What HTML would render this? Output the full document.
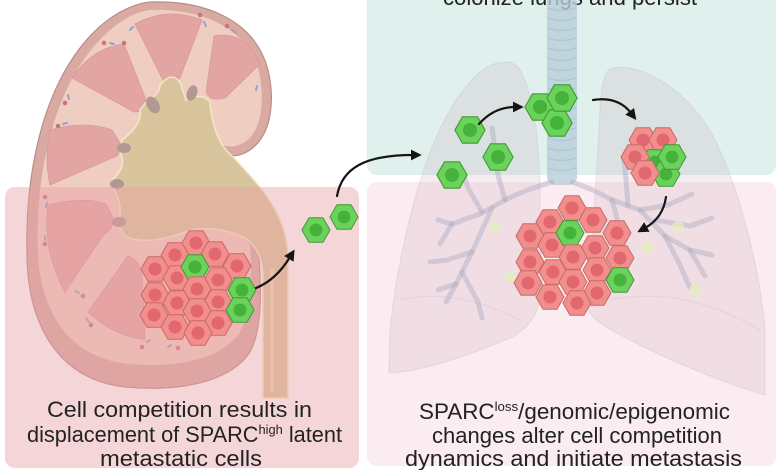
<!DOCTYPE html>
<html>
<head>
<meta charset="utf-8">
<style>
  html,body{margin:0;padding:0;background:#fff;}
  svg{display:block;}
  text{font-family:"Liberation Sans",Arial,sans-serif;fill:#222;}
</style>
</head>
<body>
<svg width="780" height="470" viewBox="0 0 780 470" xmlns="http://www.w3.org/2000/svg">
  <defs>
    <g id="R">
      <polygon points="-14,0 -7,-12.2 7,-12.2 14,0 7,12.2 -7,12.2" fill="#f28e8c" stroke="#c76a68" stroke-width="1"/>
      <circle r="6.5" fill="#e1686f"/>
    </g>
    <g id="G">
      <polygon points="-14,0 -7,-12.2 7,-12.2 14,0 7,12.2 -7,12.2" fill="#6bd35c" stroke="#3d9a33" stroke-width="1"/>
      <circle r="6.5" fill="#45b23b"/>
    </g>
    <marker id="ah" viewBox="0 0 10 10" refX="2" refY="5" markerWidth="11" markerHeight="11" markerUnits="userSpaceOnUse" orient="auto">
      <path d="M0,0 L10,5 L0,10 z" fill="#151515"/>
    </marker>
  </defs>

  <rect width="780" height="470" fill="#ffffff"/>

  <!-- right panels -->
  <rect x="367" y="-20" width="409" height="195" rx="10" fill="#e0f0ed"/>
  <rect x="367" y="182" width="409" height="284" rx="10" fill="#fbecf1"/>

  <!-- top title (cut off) -->
  <text x="443" y="5" font-size="22" textLength="254" lengthAdjust="spacingAndGlyphs">colonize lungs and persist</text>

  <!-- lungs -->
  <g>
    <path d="M505,62 C480,62 455,95 435,140 C410,200 395,280 390,330 L389,373 C420,372 470,355 505,340 C525,333 540,315 542,290 L540,200 C540,150 535,95 520,70 C515,63 510,62 505,62 Z" fill="rgb(200,172,182)" fill-opacity="0.22" stroke="rgb(190,165,175)" stroke-opacity="0.25"/>
    <path d="M612,68 C640,62 690,90 715,140 C740,190 760,270 765,330 L765,395 C730,385 680,365 640,345 C610,330 592,320 588,310 L592,240 C595,200 598,150 600,110 C601,85 605,70 612,68 Z" fill="rgb(200,172,182)" fill-opacity="0.22" stroke="rgb(190,165,175)" stroke-opacity="0.25"/>
    <path d="M400,300 C440,290 480,300 520,320 M610,300 C660,290 710,300 760,330" fill="none" stroke="rgb(190,165,175)" stroke-opacity="0.22"/>
  </g>

  <!-- trachea -->
  <g opacity="0.8">
    <rect x="547" y="-5" width="30" height="190" rx="8" fill="#b9cfda"/>
    <g stroke="#a6bccb" stroke-width="1.3" fill="none">
      <path d="M548,8 Q562,13 576,8"/><path d="M548,18 Q562,23 576,18"/><path d="M548,28 Q562,33 576,28"/>
      <path d="M548,38 Q562,43 576,38"/><path d="M548,48 Q562,53 576,48"/><path d="M548,58 Q562,63 576,58"/>
      <path d="M548,68 Q562,73 576,68"/><path d="M548,78 Q562,83 576,78"/><path d="M548,88 Q562,93 576,88"/>
      <path d="M548,98 Q562,103 576,98"/><path d="M548,108 Q562,113 576,108"/><path d="M548,118 Q562,123 576,118"/>
      <path d="M548,128 Q562,133 576,128"/><path d="M548,138 Q562,143 576,138"/><path d="M548,148 Q562,153 576,148"/>
      <path d="M548,158 Q562,163 576,158"/><path d="M548,168 Q562,173 576,168"/>
    </g>
  </g>

  <!-- bronchi -->
  <g fill="none" stroke="#aeaac4" stroke-opacity="0.45" stroke-width="5" stroke-linecap="round" stroke-linejoin="round">
    <path d="M552,182 Q525,190 505,200 L480,214 L452,224 L438,220"/>
    <path d="M505,200 L498,175 L495,150 L492,128"/>
    <path d="M482,212 L468,188 L462,170"/>
    <path d="M492,208 L472,252 L456,284 L446,302"/>
    <path d="M472,252 L447,260 L430,262"/>
    <path d="M462,272 L478,302 L482,318"/>
    <path d="M456,284 L438,290"/>
    <path d="M452,224 L440,244"/>
    <path d="M572,182 Q595,190 612,200 L640,210 L668,205 L692,194"/>
    <path d="M640,210 L665,236 L690,250 L712,255"/>
    <path d="M665,236 L680,265 L690,288"/>
    <path d="M628,205 L626,180 L624,160"/>
    <path d="M655,220 L690,226 L712,218"/>
    <path d="M690,250 L705,276"/>
    <path d="M612,200 L620,230 L612,260"/>
  </g>
  <g fill="#e2edbd" fill-opacity="0.75">
    <circle cx="495" cy="227" r="6"/><circle cx="510" cy="277" r="6"/>
    <circle cx="648" cy="248" r="6"/><circle cx="678" cy="227" r="6"/><circle cx="695" cy="290" r="6"/>
  </g>

  <!-- kidney -->
  <g>
    <path d="M150,2 C205,0 255,20 268,70 C275,100 272,135 250,150 C238,158 225,158 215,150 L212,135 L230,200 L258,245 C262,290 262,330 250,352 C230,382 180,392 125,387 C62,380 28,330 27,255 C25,180 40,100 80,48 C100,22 125,5 150,2 Z" fill="#d9aaa2" stroke="#b78e88" stroke-width="1.2"/>
    <path d="M150,10 C200,8 248,27 259,72 C265,100 262,130 245,142 C235,148 226,148 218,142 L212,135 L228,200 L250,245 C253,288 250,318 238,335 C218,360 178,368 128,364 C75,358 42,320 38,255 C35,182 50,105 87,55 C106,30 128,13 150,10 Z" fill="#f0cdc1"/>
    <!-- pyramids -->
    <g fill="#e3a5a3" stroke="#d8999a" stroke-width="0.8">
      <path d="M135,24 Q168,6 202,20 L180,78 Q172,86 163,80 Z"/>
      <path d="M214,36 Q245,30 260,64 L225,98 Q210,102 206,92 Z"/>
      <path d="M72,78 Q92,48 124,44 L146,100 Q144,112 134,112 Z"/>
      <path d="M50,130 Q85,120 112,130 L122,146 Q120,156 112,158 L50,185 Q44,158 50,130 Z"/>
      <path d="M48,205 Q85,196 106,204 L114,220 Q112,230 104,234 L65,292 Q42,250 48,205 Z"/>
      <path d="M128,256 Q138,260 142,272 L145,340 Q112,335 88,312 Z"/>
    </g>
    <!-- pelvis + ureter -->
    <path d="M165,80 C172,74 180,78 182,88 L186,100 C194,95 205,95 210,102 C212,125 218,145 233,157 C255,180 278,205 285,235 C289,250 288,265 288,280 L288,398 L263,398 L263,275 C262,255 255,245 245,238 C225,228 200,226 185,232 C165,240 140,244 125,236 L118,224 C122,212 120,200 115,192 L112,180 C122,172 125,162 120,152 L122,140 C135,130 142,120 140,110 L148,100 C156,96 160,90 160,85 Z" fill="#d9c59d" stroke="#f3e7c8" stroke-width="1.5"/>
    <path d="M272,270 L272,390" stroke="#ead7b0" stroke-width="4" stroke-linecap="round"/>
    <!-- calyces -->
    <g fill="#b39793">
      <ellipse cx="153" cy="105" rx="6" ry="9" transform="rotate(-30 153 105)"/>
      <ellipse cx="192" cy="93" rx="5" ry="8" transform="rotate(20 192 93)"/>
      <ellipse cx="124" cy="148" rx="7" ry="5"/>
      <ellipse cx="117" cy="184" rx="7" ry="5"/>
      <ellipse cx="119" cy="222" rx="7" ry="5"/>
    </g>
    <!-- vessels -->
    <g fill="#c87679">
      <circle cx="200" cy="15" r="2.3"/><circle cx="227" cy="26" r="2.3"/><circle cx="124" cy="43" r="2.3"/>
      <circle cx="104" cy="43" r="2.3"/><circle cx="65" cy="103" r="2.3"/><circle cx="58" cy="126" r="2.3"/>
      <circle cx="45" cy="197" r="2.3"/><circle cx="45" cy="244" r="2.3"/><circle cx="83" cy="296" r="2.3"/>
      <circle cx="91" cy="325" r="2.3"/><circle cx="142" cy="347" r="2.3"/><circle cx="178" cy="348" r="2.3"/>
    </g>
    <g stroke="#9aa0c8" stroke-width="2" stroke-linecap="round">
      <path d="M204,22 L206,26"/><path d="M232,30 L236,33"/><path d="M130,30 L133,27"/><path d="M110,43 L114,44"/>
      <path d="M68,95 L69,99"/><path d="M63,124 L67,123"/><path d="M47,203 L46,207"/><path d="M45,236 L45,240"/>
      <path d="M75,291 L79,293"/><path d="M86,318 L89,322"/><path d="M147,342 L150,340"/><path d="M168,347 L171,345"/>
      <path d="M257,86 L256,90"/>
    </g>
  </g>

  <!-- left panel overlay -->
  <rect x="5" y="187" width="354" height="281" rx="10" fill="rgb(232,160,165)" fill-opacity="0.43"/>

  <!-- kidney tumor cluster -->
  <use href="#R" x="196" y="243"/>
  <use href="#R" x="175" y="255"/>
  <use href="#R" x="215" y="254"/>
  <use href="#R" x="155" y="269"/>
  <use href="#R" x="237" y="266"/>
  <use href="#R" x="177" y="278"/>
  <use href="#R" x="218" y="280"/>
  <use href="#G" x="195" y="267"/>
  <use href="#R" x="197" y="289"/>
  <use href="#R" x="155" y="295"/>
  <use href="#R" x="177" y="303"/>
  <use href="#R" x="218" y="302"/>
  <use href="#R" x="197" y="311"/>
  <use href="#R" x="154" y="315"/>
  <use href="#R" x="175" y="327"/>
  <use href="#R" x="218" y="323"/>
  <use href="#R" x="198" y="333"/>
  <use href="#G" x="242" y="290"/>
  <use href="#G" x="240" y="310"/>

  <!-- migrating cells -->
  <use href="#G" x="316" y="230"/>
  <use href="#G" x="344" y="217"/>

  <!-- lung cells -->
  <g transform="translate(470,130) scale(1.08)"><use href="#G"/></g>
  <g transform="translate(498,157) scale(1.08)"><use href="#G"/></g>
  <g transform="translate(452,175) scale(1.08)"><use href="#G"/></g>
  <g transform="translate(540,107) scale(1.08)"><use href="#G"/></g>
  <g transform="translate(557,123) scale(1.08)"><use href="#G"/></g>
  <g transform="translate(562,98) scale(1.08)"><use href="#G"/></g>

  <use href="#R" x="643" y="140"/>
  <use href="#R" x="663" y="140"/>
  <use href="#G" x="655" y="162"/>
  <use href="#R" x="635" y="157"/>
  <use href="#G" x="666" y="174"/>
  <use href="#G" x="672" y="157"/>
  <use href="#R" x="645" y="173"/>

  <!-- lung tumor cluster -->
  <use href="#R" x="572" y="208"/>
  <use href="#R" x="550" y="222"/>
  <use href="#R" x="593" y="220"/>
  <use href="#R" x="530" y="236"/>
  <use href="#R" x="617" y="233"/>
  <use href="#R" x="552" y="245"/>
  <use href="#R" x="595" y="248"/>
  <use href="#G" x="570" y="233"/>
  <use href="#R" x="573" y="257"/>
  <use href="#R" x="530" y="262"/>
  <use href="#R" x="620" y="258"/>
  <use href="#R" x="553" y="272"/>
  <use href="#R" x="597" y="270"/>
  <use href="#R" x="573" y="282"/>
  <use href="#R" x="528" y="283"/>
  <use href="#R" x="550" y="297"/>
  <use href="#R" x="597" y="293"/>
  <use href="#R" x="577" y="303"/>
  <use href="#G" x="620" y="280"/>

  <!-- arrows -->
  <g fill="none" stroke="#151515" stroke-width="2.2" stroke-linecap="round" marker-end="url(#ah)">
    <path d="M256,288 Q276,280 290,257"/>
    <path d="M337,196 C342,168 365,155 413,155"/>
    <path d="M479,124 Q494,107 515,107"/>
    <path d="M593,100 Q618,96 631,113"/>
    <path d="M666,197 Q663,218 645,228"/>
  </g>

  <!-- captions -->
  <text x="47" y="417" font-size="22" textLength="265" lengthAdjust="spacingAndGlyphs">Cell competition results in</text>
  <text x="27" y="442" font-size="22" textLength="315" lengthAdjust="spacingAndGlyphs">displacement of SPARC<tspan font-size="13" dy="-8">high</tspan><tspan dy="8"> latent</tspan></text>
  <text x="100" y="466" font-size="22" textLength="162" lengthAdjust="spacingAndGlyphs">metastatic cells</text>

  <text x="419" y="419" font-size="22" textLength="311" lengthAdjust="spacingAndGlyphs">SPARC<tspan font-size="13" dy="-8">loss</tspan><tspan dy="8">/genomic/epigenomic</tspan></text>
  <text x="432" y="443" font-size="22" textLength="290" lengthAdjust="spacingAndGlyphs">changes alter cell competition</text>
  <text x="405" y="466" font-size="22" textLength="337" lengthAdjust="spacingAndGlyphs">dynamics and initiate metastasis</text>
</svg>
</body>
</html>
